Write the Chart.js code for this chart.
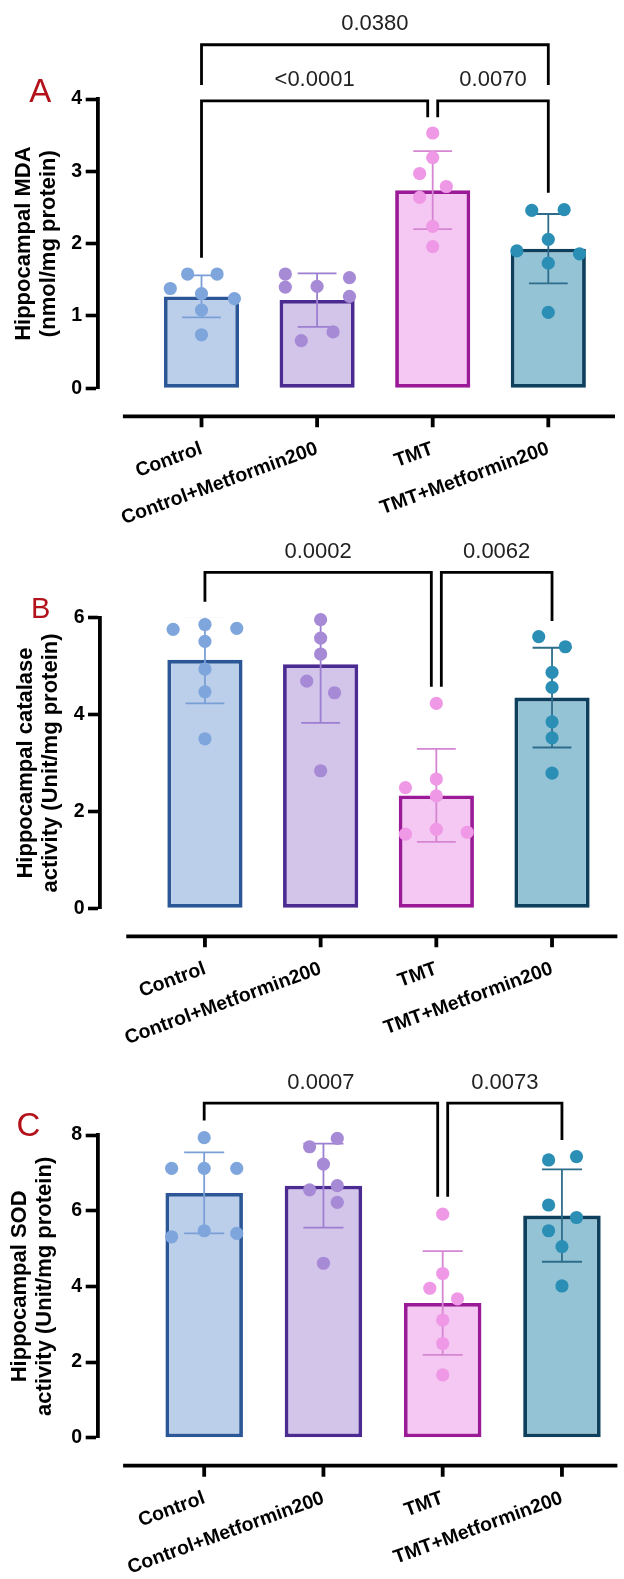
<!DOCTYPE html>
<html>
<head>
<meta charset="utf-8">
<script src="https://cdn.jsdelivr.net/npm/chart.js@4.4.1/dist/chart.umd.min.js"></script>
<style>
  html, body { margin: 0; padding: 0; background: #fff; }
  #wrap { position: relative; width: 624px; height: 1579px; overflow: hidden; }
  .panel { position: absolute; left: 0; width: 624px; }
  canvas { display: block; }
</style>
</head>
<body>
<div id="wrap">
  <div class="panel" style="top:0px"><canvas id="chartA" width="624" height="545"></canvas></div>
  <div class="panel" style="top:520px"><canvas id="chartB" width="624" height="545"></canvas></div>
  <div class="panel" style="top:1040px"><canvas id="chartC" width="624" height="539"></canvas></div>
</div>
<script>
const groups = ['Control', 'Control+Metformin200', 'TMT', 'TMT+Metformin200'];

const barFill = ['#bccfea', '#d3c4ea', '#f4c8f2', '#95c3d6'];
const barEdge = ['#2b5797', '#4b2a91', '#9a1a97', '#0e3f5c'];
const dotColor = ['#7ea6dc', '#a78ad6', '#ee98e6', '#2b8fb5'];
const errColor = ['#7a9fd6', '#9c7fd0', '#d585d2', '#2e6d8a'];

// A - MDA
const meanA = [1.27, 1.22, 2.74, 1.93];
const sdA = [0.29, 0.37, 0.54, 0.48];
const pointsA = [
  [1.58, 1.58, 1.38, 1.31, 1.24, 1.08, 0.74],
  [1.58, 1.40, 1.41, 1.53, 1.27, 0.78, 0.66],
  [3.53, 3.19, 2.97, 2.79, 2.64, 2.24, 1.96],
  [2.46, 2.47, 2.06, 1.90, 1.86, 1.73, 1.05]
];
const jitterA = [
  [-0.12, 0.135, -0.27, 0, 0.285, 0, 0],
  [-0.275, -0.275, 0, 0.28, 0.28, 0.138, -0.137],
  [0, 0, -0.113, 0.118, -0.113, 0, 0],
  [-0.143, 0.137, 0, -0.272, 0.27, 0, 0]
];
const pValuesA = ['0.0380', '<0.0001', '0.0070'];

// B - catalase
const meanB = [5.13, 5.04, 2.33, 4.35];
const sdB = [0.90, 1.21, 0.96, 1.03];
const pointsB = [
  [5.76, 5.86, 5.78, 5.51, 4.94, 4.47, 3.50],
  [5.96, 5.58, 5.25, 4.69, 4.45, 2.84],
  [4.23, 2.67, 2.49, 2.32, 1.53, 1.63, 1.57],
  [5.61, 5.40, 4.87, 4.56, 3.85, 3.52, 2.79]
];
const jitterB = [
  [-0.275, 0, 0.275, 0, 0, 0, 0],
  [0, 0, 0, -0.12, 0.12, 0],
  [0, 0, -0.267, 0, -0.267, 0, 0.267],
  [-0.115, 0.115, 0, 0, 0, 0, 0]
];
const pValuesB = ['0.0002', '0.0062'];

// C - SOD
const meanC = [6.47, 6.66, 3.56, 5.87];
const sdC = [1.07, 1.11, 1.37, 1.22];
const pointsC = [
  [7.93, 7.12, 7.12, 7.12, 5.47, 5.31, 5.40],
  [7.91, 7.69, 7.23, 6.55, 6.66, 6.22, 4.61],
  [5.91, 4.34, 3.95, 3.67, 3.11, 2.49, 1.66],
  [7.34, 7.43, 6.15, 5.82, 5.47, 5.05, 4.01]
];
const jitterC = [
  [0, -0.273, 0, 0.273, 0, -0.273, 0.273],
  [0.116, -0.116, 0, -0.116, 0.116, 0.116, 0],
  [0, 0, -0.108, 0.124, 0, 0, 0],
  [-0.112, 0.122, -0.112, 0.122, -0.112, 0, 0]
];
const pValuesC = ['0.0007', '0.0073'];

const FONT = "'Liberation Sans', Arial, Helvetica, sans-serif";
Chart.defaults.font.family = FONT;

function decor(cfg) {
  return {
    id: 'decor',
    afterDatasetDraw(chart, args) {
      if (args.index !== 0) return;
      const {ctx, chartArea: ca, scales: {x, y}} = chart;
      const step = x.getPixelForValue(1) - x.getPixelForValue(0);
      const cap = 0.168 * step;
      ctx.save();
      ctx.beginPath();
      ctx.rect(ca.left, ca.top, ca.right - ca.left, ca.bottom - ca.top);
      ctx.clip();
      ctx.lineWidth = 1.8;
      cfg.mean.forEach((m, i) => {
        const cx = x.getPixelForValue(i);
        const hi = y.getPixelForValue(m + cfg.sd[i]);
        const lo = y.getPixelForValue(m - cfg.sd[i]);
        ctx.strokeStyle = errColor[i];
        ctx.beginPath();
        ctx.moveTo(cx, lo); ctx.lineTo(cx, hi);
        ctx.moveTo(cx - cap, hi); ctx.lineTo(cx + cap, hi);
        ctx.moveTo(cx - cap, lo); ctx.lineTo(cx + cap, lo);
        ctx.stroke();
      });
      ctx.restore();
    },
    afterDraw(chart) {
      const {ctx, chartArea: ca, scales: {x, y}} = chart;
      ctx.save();
      // detached x axis
      const ay = ca.bottom + 28;
      ctx.strokeStyle = '#000';
      ctx.lineWidth = 3.8;
      ctx.beginPath();
      ctx.moveTo(x.getPixelForValue(-0.68), ay);
      ctx.lineTo(ca.right, ay);
      groups.forEach((g, i) => {
        const px = x.getPixelForValue(i);
        ctx.moveTo(px, ay);
        ctx.lineTo(px, ay + 11);
      });
      ctx.stroke();

      // comparison brackets
      ctx.lineWidth = 2.8;
      ctx.font = '22px ' + FONT;
      ctx.fillStyle = '#222';
      ctx.textAlign = 'center';
      ctx.textBaseline = 'middle';
      cfg.brackets.forEach(b => {
        const x1 = x.getPixelForValue(b.from) + (b.fromShift || 0);
        const x2 = x.getPixelForValue(b.to) + (b.toShift || 0);
        const yl = y.getPixelForValue(b.level);
        ctx.beginPath();
        ctx.moveTo(x1, y.getPixelForValue(b.endFrom));
        ctx.lineTo(x1, yl);
        ctx.lineTo(x2, yl);
        ctx.lineTo(x2, y.getPixelForValue(b.endTo));
        ctx.stroke();
        ctx.fillText(b.label, (x1 + x2) / 2, yl - 20.5);
      });

      // panel letter
      ctx.font = cfg.letterSize + 'px ' + FONT;
      ctx.fillStyle = '#b3121a';
      ctx.textAlign = 'left';
      ctx.textBaseline = 'alphabetic';
      ctx.fillText(cfg.letter, cfg.letterX, cfg.letterY);
      ctx.restore();
    }
  };
}

function makeChart(id, cfg) {
  const canvas = document.getElementById(id);
  const H = canvas.height;
  const datasets = [{
    type: 'bar',
    data: cfg.mean.map((m, i) => ({x: i, y: m})),
    backgroundColor: barFill,
    borderColor: barEdge,
    borderWidth: 3.8,
    borderSkipped: false,
    barPercentage: 0.65,
    categoryPercentage: 1,
    order: 2
  }];
  cfg.points.forEach((vals, g) => {
    datasets.push({
      type: 'scatter',
      data: vals.map((v, k) => ({x: g + cfg.jitter[g][k], y: v})),
      backgroundColor: dotColor[g],
      borderWidth: 0,
      pointRadius: 6.6,
      pointHoverRadius: 6.6,
      clip: false,
      order: 1
    });
  });

  return new Chart(canvas, {
    type: 'bar',
    data: {datasets},
    plugins: [decor(cfg)],
    options: {
      responsive: false,
      animation: false,
      layout: {padding: {left: 0, top: cfg.top, right: 624 - cfg.right, bottom: 0}},
      plugins: {legend: {display: false}, tooltip: {enabled: false}},
      scales: {
        x: {
          type: 'linear',
          bounds: 'data',
          offset: false,
          min: cfg.xMin,
          max: cfg.xMax,
          grid: {display: false, drawTicks: false},
          border: {display: false},
          afterBuildTicks: s => { s.ticks = groups.map((g, i) => ({value: i})); },
          afterFit: s => { s.height = H - cfg.bottom; },
          ticks: {
            autoSkip: false,
            minRotation: 20,
            maxRotation: 20,
            padding: 49,
            color: '#000',
            font: {size: 19.5, weight: 'bold'},
            callback: v => groups[v]
          }
        },
        y: {
          min: 0,
          max: cfg.yMax,
          ticks: {stepSize: cfg.yStep, padding: 3.5, color: '#000', font: {size: 19.5, weight: 'bold'}},
          grid: {drawOnChartArea: false, drawTicks: true, tickLength: 12, tickWidth: 3.6, tickColor: '#000'},
          border: {display: true, color: '#000', width: 3.8},
          title: {
            display: true,
            text: cfg.yTitle,
            color: '#000',
            font: {size: 22, weight: 'bold', lineHeight: 1.15},
            padding: {top: cfg.titlePad, bottom: 0}
          },
          afterFit: s => { s.width = cfg.left; }
        }
      }
    }
  });
}

makeChart('chartA', {
  mean: meanA, sd: sdA, points: pointsA, jitter: jitterA,
  yMax: 4, yStep: 1, yTitle: ['Hippocampal MDA', '(nmol/mg protein)'],
  left: 97.7, right: 615, top: 99, bottom: 388.3, xMin: -0.898, xMax: 3.577, titlePad: 10.9,
  letter: 'A', letterSize: 33, letterX: 29.3, letterY: 102,
  brackets: [
    {from: 0, to: 3, level: 4.75, endFrom: 4.195, endTo: 4.195, label: pValuesA[0]},
    {from: 0, to: 2, level: 3.974, endFrom: 1.806, endTo: 3.748, toShift: -5, label: pValuesA[1]},
    {from: 2, to: 3, level: 3.974, endFrom: 3.748, endTo: 2.705, fromShift: 5, label: pValuesA[2]}
  ]
});

makeChart('chartB', {
  mean: meanB, sd: sdB, points: pointsB, jitter: jitterB,
  yMax: 6, yStep: 2, yTitle: ['Hippocampal catalase', 'activity (Unit/mg protein)'],
  left: 100, right: 619.3, top: 97.7, bottom: 388.3, xMin: -0.907, xMax: 3.565, titlePad: 13.4,
  letter: 'B', letterSize: 29, letterX: 31, letterY: 98,
  brackets: [
    {from: 0, to: 2, level: 6.934, endFrom: 6.328, endTo: 4.574, toShift: -5, label: pValuesB[0]},
    {from: 2, to: 3, level: 6.934, endFrom: 4.574, endTo: 5.93, fromShift: 5, label: pValuesB[1]}
  ]
});

makeChart('chartC', {
  mean: meanC, sd: sdC, points: pointsC, jitter: jitterC,
  yMax: 8, yStep: 2, yTitle: ['Hippocampal SOD', 'activity (Unit/mg protein)'],
  left: 97.7, right: 624, top: 95, bottom: 397.7, xMin: -0.893, xMax: 3.465, titlePad: 7.4,
  letter: 'C', letterSize: 33, letterX: 16.5, letterY: 96,
  brackets: [
    {from: 0, to: 2, level: 8.84, endFrom: 8.38, endTo: 6.371, toShift: -5, label: pValuesC[0]},
    {from: 2, to: 3, level: 8.84, endFrom: 6.371, endTo: 7.87, fromShift: 5, label: pValuesC[1]}
  ]
});
</script>
</body>
</html>
